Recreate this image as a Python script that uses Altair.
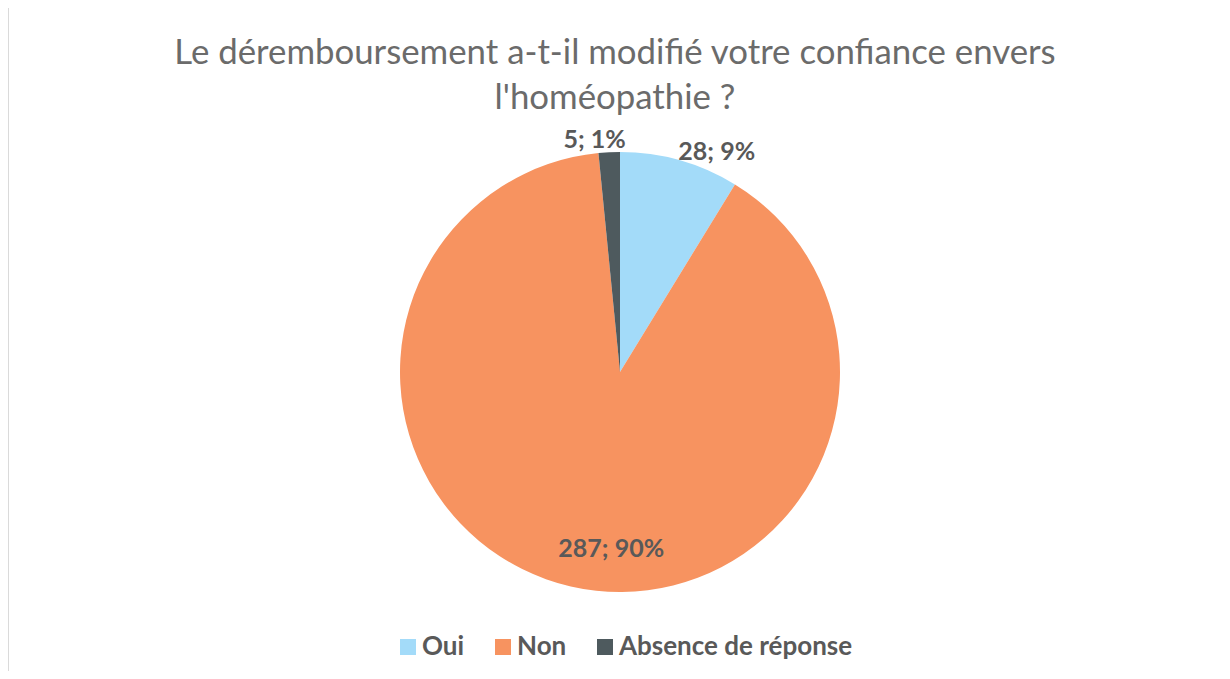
import altair as alt
import pandas as pd

categories = ["Oui", "Non", "Absence de réponse"]
counts = [28, 287, 5]
percents = ["9%", "90%", "1%"]
colors = ["#A3DBF9", "#F79360", "#4E5A5E"]
title_lines = ["Le déremboursement a-t-il modifié votre confiance envers", "l'homéopathie ?"]

df = pd.DataFrame({
    "cat": categories,
    "n": counts,
    "pct": percents,
    "ord": list(range(len(categories))),
})
df["label"] = [f"{n}; {p}" for n, p in zip(counts, percents)]

W, H = 1214, 543
CX, CY, R = 612, 244, 220
FONT = "Lato"
TXT = "#595959"

base = alt.Chart(df).encode(
    theta=alt.Theta("n:Q", stack=True),
    order=alt.Order("ord:Q"),
)

pie = base.mark_arc(radius=R).encode(
    x=alt.value(CX),
    y=alt.value(CY),
    color=alt.Color(
        "cat:N",
        sort=categories,
        scale=alt.Scale(domain=categories, range=colors),
        legend=alt.Legend(
            title=None,
            orient="none",
            legendX=387,
            legendY=506,
            direction="horizontal",
            symbolType="square",
            symbolSize=256,
            symbolStrokeWidth=0,
            labelFontSize=26,
            labelFont=FONT,
            labelFontWeight="bold",
            labelColor=TXT,
            labelOffset=1,
            labelLimit=400,
            columnPadding=25,
        ),
    ),
)

def label_layer(cat, radius, align, dx=0, dy=0):
    return base.mark_text(
        radius=radius, align=align, baseline="middle", dx=dx, dy=dy,
        fontSize=25, font=FONT, fontWeight="bold", color=TXT,
    ).encode(
        x=alt.value(CX),
        y=alt.value(CY),
        text=alt.condition(f"datum.cat == '{cat}'", alt.Text("label:N"), alt.value("")),
    )

lab_oui = label_layer("Oui", 226, "left", dx=-3, dy=-2)
lab_non = label_layer("Non", 182, "center", dx=32)
lab_abs = label_layer("Absence de réponse", 232, "center", dx=-14)

frame_left = alt.Chart(df).mark_rect(color="#DADADA").encode(
    x=alt.value(-1), x2=alt.value(1), y=alt.value(-122), y2=alt.value(H + 10)
)
frame_top = alt.Chart(df).mark_rect(color="#DADADA").encode(
    x=alt.value(-1), x2=alt.value(W + 10), y=alt.value(-122), y2=alt.value(-120)
)

chart = alt.layer(frame_left, frame_top, pie, lab_oui, lab_non, lab_abs).properties(
    width=W,
    height=H,
    background="white",
    autosize=alt.AutoSizeParams(type="none"),
    padding={"left": 0, "top": 120, "right": 0, "bottom": 0},
    title=alt.TitleParams(
        text=title_lines,
        fontSize=34.8,
        font=FONT,
        fontWeight="normal",
        color="#6B6B6B",
        anchor="middle",
        baseline="bottom",
        lineHeight=45,
        offset=-145,
    ),
).configure_view(stroke=None)

chart.save("out.html", embed_options={"renderer": "svg", "actions": False})
